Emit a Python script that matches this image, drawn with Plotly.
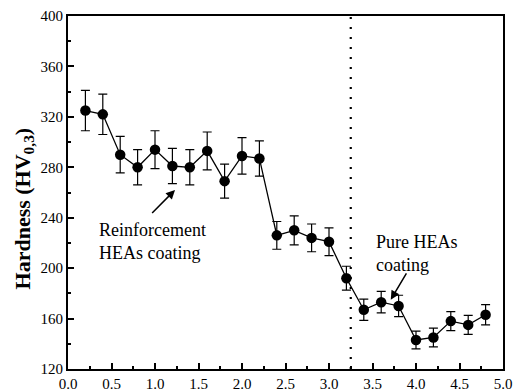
import plotly.graph_objects as go

distance = [0.2, 0.4, 0.6, 0.8, 1.0, 1.2, 1.4, 1.6, 1.8, 2.0, 2.2, 2.4,
            2.6, 2.8, 3.0, 3.2, 3.4, 3.6, 3.8, 4.0, 4.2, 4.4, 4.6, 4.8]
hardness = [325, 322, 290, 280, 294, 281, 280, 293, 269, 289, 287, 226,
            230, 224, 221, 192, 167, 173, 170, 143, 145, 158, 155, 163]
error = [16, 16, 14.5, 14, 15, 14, 14, 15, 13.5, 14.5, 14, 11,
         11.5, 11, 11, 9.5, 8.5, 8.5, 8.5, 7, 7.5, 7.5, 7.5, 8]
boundary_x = 3.25

font_family = "Liberation Serif"

fig = go.Figure()
fig.add_trace(go.Scatter(
    x=distance, y=hardness, mode="lines+markers",
    line=dict(color="black", width=1.3),
    marker=dict(color="black", size=10.5),
    error_y=dict(type="data", array=error, visible=True, color="black",
                 thickness=1.2, width=4.5),
    showlegend=False,
))

fig.add_shape(type="line", x0=boundary_x, x1=boundary_x, y0=0, y1=1,
              xref="x", yref="paper",
              line=dict(color="black", width=2.2, dash="2px,8px"))

ann_font = dict(family=font_family, size=18, color="black")
fig.add_annotation(x=0.33, y=221.5, xref="x", yref="y",
                   text="Reinforcement<br>HEAs coating", showarrow=False,
                   xanchor="left", yanchor="middle", align="left", font=ann_font)
fig.add_annotation(x=3.52, y=211.5, xref="x", yref="y",
                   text="Pure HEAs<br>coating", showarrow=False,
                   xanchor="left", yanchor="middle", align="left", font=ann_font)
fig.add_annotation(x=1.23, y=262, ax=0.95, ay=242.5, xref="x", yref="y",
                   axref="x", ayref="y", text="", showarrow=True,
                   arrowhead=2, arrowsize=1.2, arrowwidth=1.5, arrowcolor="black")
fig.add_annotation(x=3.71, y=175, ax=3.9, ay=197, xref="x", yref="y",
                   axref="x", ayref="y", text="", showarrow=True,
                   arrowhead=2, arrowsize=1.2, arrowwidth=1.5, arrowcolor="black")

# y-axis title (placed as a rotated annotation to match the original offset)
fig.add_annotation(x=-0.101, y=0.455, xref="paper", yref="paper",
                   text="<b>Hardness (HV<sub>0,3</sub>)</b>", showarrow=False,
                   textangle=-90, xanchor="center", yanchor="middle",
                   font=dict(family=font_family, size=22, color="black"))

tick_font = dict(family=font_family, size=15, color="black")
fig.update_xaxes(range=[0, 5], tickvals=[0, 0.5, 1, 1.5, 2, 2.5, 3, 3.5, 4, 4.5, 5],
                 ticktext=["0.0", "0.5", "1.0", "1.5", "2.0", "2.5", "3.0", "3.5", "4.0", "4.5", "5.0"],
                 ticks="inside", ticklen=6, tickwidth=1.5, tickcolor="black",
                 minor=dict(ticks="inside", ticklen=3, tickwidth=1.5, tickcolor="black", dtick=0.25),
                 showline=True, linecolor="black", linewidth=2, mirror=True,
                 showgrid=False, zeroline=False, tickfont=tick_font,
                 automargin=False)
fig.update_yaxes(range=[120, 400], tickvals=[120, 160, 200, 240, 280, 320, 360, 400],
                 ticks="inside", ticklen=6, tickwidth=1.5, tickcolor="black",
                 minor=dict(ticks="inside", ticklen=3, tickwidth=1.5, tickcolor="black", dtick=20),
                 showline=True, linecolor="black", linewidth=2, mirror=True,
                 showgrid=False, zeroline=False, tickfont=tick_font,
                 automargin=False)

fig.update_layout(width=513, height=392, margin=dict(l=68, r=10, t=16, b=23),
                  plot_bgcolor="white", paper_bgcolor="white",
                  font=dict(family=font_family))

fig.write_html("out.html")
